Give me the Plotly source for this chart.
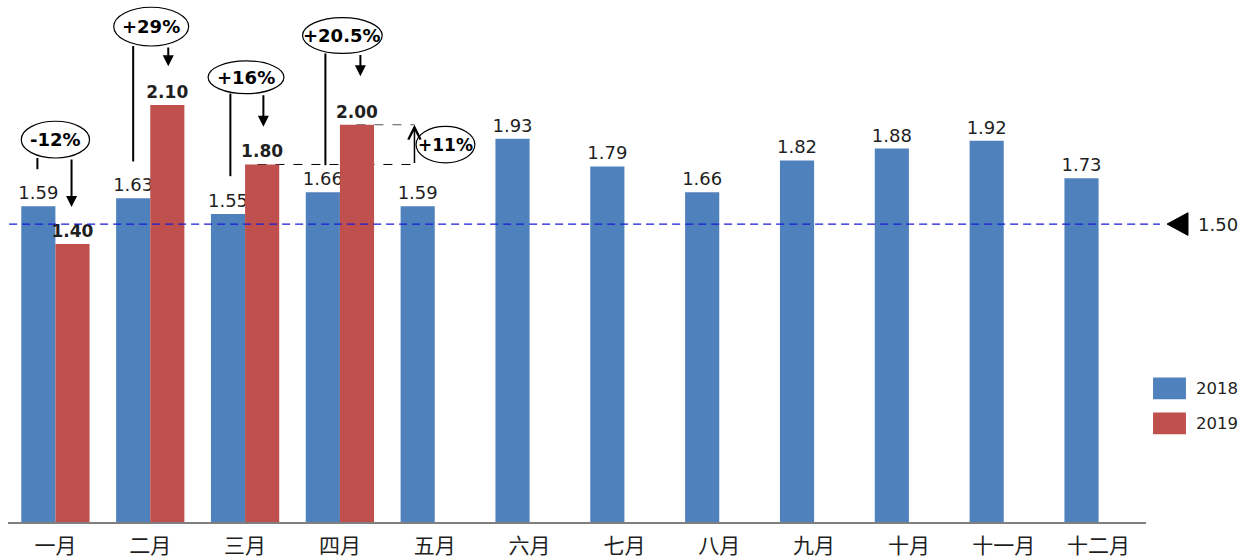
import plotly.graph_objects as go

# --- data -------------------------------------------------------------
months = ["一月", "二月", "三月", "四月", "五月", "六月",
          "七月", "八月", "九月", "十月", "十一月", "十二月"]
values_2018 = [1.59, 1.63, 1.55, 1.66, 1.59, 1.93, 1.79, 1.66, 1.82, 1.88, 1.92, 1.73]
values_2019 = [1.40, 2.10, 1.80, 2.00]
series_names = ["2018", "2019"]
threshold = 1.50

# year-over-year change callouts: (month index, label)
yoy_labels = [(0, "-12%"), (1, "+29%"), (2, "+16%"), (3, "+20.5%")]
mom_label = "+11%"

BLUE = "#4F81BD"
RED = "#C0504D"
TXT = "#1f1f1f"

fig = go.Figure()
fig.add_trace(go.Bar(
    x=months, y=values_2018, name=series_names[0], marker_color=BLUE,
    marker_line_width=0,
    texttemplate="%{y:.2f}", textposition="outside", constraintext="none",
    textfont=dict(family="DejaVu Sans", size=18, color=TXT),
    cliponaxis=False, showlegend=False,
))
fig.add_trace(go.Bar(
    x=months[:len(values_2019)], y=values_2019, name=series_names[1],
    marker_color=RED, marker_line_width=0,
    texttemplate="<b>%{y:.2f}</b>", textposition="outside", constraintext="none",
    textfont=dict(family="DejaVu Sans", size=17, color=TXT),
    cliponaxis=False, showlegend=False,
))

shapes = []
annotations = []

# offsets of the two bars inside a month group (category units)
off = 0.18

# callout geometry per month: ellipse centre / size, line and arrow ends
callouts = {
    0: dict(cx=0.0, cy=1.925, w=0.72, h=0.185, line_x=-0.19, line_end=1.776,
            arrow_x=0.17, arrow_tip=1.586),
    1: dict(cx=1.01, cy=2.494, w=0.79, h=0.195, line_x=1 - off, line_end=1.815,
            arrow_x=1 + 0.19, arrow_tip=2.294),
    2: dict(cx=2.01, cy=2.239, w=0.80, h=0.165, line_x=1.845, line_end=1.741,
            arrow_x=2.193, arrow_tip=1.990),
    3: dict(cx=3.026, cy=2.449, w=0.84, h=0.18, line_x=2.847, line_end=1.796,
            arrow_x=3.216, arrow_tip=2.244),
}

for idx, label in yoy_labels:
    c = callouts[idx]
    bottom = c["cy"] - c["h"] / 2
    shapes.append(dict(type="line", xref="x", yref="y",
                       x0=c["line_x"], x1=c["line_x"], y0=bottom, y1=c["line_end"],
                       line=dict(color="black", width=2)))
    annotations.append(dict(x=c["arrow_x"], y=c["arrow_tip"], ax=c["arrow_x"], ay=bottom,
                            xref="x", yref="y", axref="x", ayref="y", text="",
                            showarrow=True, arrowhead=2, arrowsize=1.1, arrowwidth=2,
                            arrowcolor="black", standoff=0))
    shapes.append(dict(type="circle", xref="x", yref="y",
                       x0=c["cx"] - c["w"] / 2, x1=c["cx"] + c["w"] / 2,
                       y0=c["cy"] - c["h"] / 2, y1=c["cy"] + c["h"] / 2,
                       line=dict(color="black", width=1.2), fillcolor="white"))
    annotations.append(dict(x=c["cx"], y=c["cy"], xref="x", yref="y", text=f"<b>{label}</b>",
                            showarrow=False,
                            font=dict(family="DejaVu Sans", size=18, color="black")))

# month-over-month change between March and April 2019
mar_2019, apr_2019 = values_2019[2], values_2019[3]
arrow_col = 3.786
shapes.append(dict(type="line", xref="x", yref="y", layer="below",
                   x0=2.13, x1=arrow_col, y0=mar_2019, y1=mar_2019,
                   line=dict(color="black", width=1, dash="dash")))
shapes.append(dict(type="line", xref="x", yref="y", layer="below",
                   x0=3.174, x1=arrow_col, y0=apr_2019, y1=apr_2019,
                   line=dict(color="#555555", width=1, dash="dash")))
annotations.append(dict(x=arrow_col, y=apr_2019, ax=arrow_col, ay=mar_2019,
                        xref="x", yref="y", axref="x", ayref="y", text="",
                        showarrow=True, arrowhead=5, arrowsize=1.6, arrowwidth=1.5,
                        arrowcolor="black", standoff=0))
shapes.append(dict(type="circle", xref="x", yref="y",
                   x0=4.113 - 0.31, x1=4.113 + 0.31, y0=1.900 - 0.092, y1=1.900 + 0.092,
                   line=dict(color="black", width=1.2), fillcolor="white"))
annotations.append(dict(x=4.113, y=1.900, xref="x", yref="y", text=f"<b>{mom_label}</b>",
                        showarrow=False,
                        font=dict(family="DejaVu Sans", size=17, color="black")))

# reference line with marker and value at the right edge
shapes.append(dict(type="line", xref="paper", yref="y", x0=0.001, x1=1.0123,
                   y0=threshold, y1=threshold,
                   line=dict(color="#1a1ad8", width=1.3, dash="8px,5px")))
shapes.append(dict(type="path", xref="paper", yref="y",
                   path=(f"M 1.0185 {threshold} L 1.0369 {threshold + 0.057} "
                         f"L 1.0369 {threshold - 0.057} Z"),
                   fillcolor="black", line=dict(color="black", width=1)))
annotations.append(dict(x=1.044, y=threshold, xref="paper", yref="y",
                        text=f"{threshold:.2f}", showarrow=False,
                        xanchor="left", yanchor="middle",
                        font=dict(family="DejaVu Sans", size=18, color=TXT)))

# legend swatches
legend_rows = [(series_names[0], BLUE, 0.256), (series_names[1], RED, 0.189)]
for name, col, yc in legend_rows:
    shapes.append(dict(type="rect", xref="paper", yref="paper",
                       x0=1.0062, x1=1.0351, y0=yc - 0.021, y1=yc + 0.021,
                       fillcolor=col, line=dict(width=0)))
    annotations.append(dict(x=1.0425, y=yc, xref="paper", yref="paper", text=name,
                            showarrow=False, xanchor="left", yanchor="middle",
                            font=dict(family="DejaVu Sans", size=16.5, color=TXT)))

fig.update_layout(
    width=1239, height=559, autosize=False,
    margin=dict(l=8, r=93, t=0, b=32, pad=0),
    paper_bgcolor="white", plot_bgcolor="white",
    barmode="group", bargap=0.28, bargroupgap=0,
    shapes=shapes, annotations=annotations,
    showlegend=False,
    xaxis=dict(type="category", showline=True, linecolor="#7f7f7f", linewidth=2,
               ticks="", showgrid=False, ticklabelstandoff=4,
               tickfont=dict(family="Noto Sans CJK SC", size=21, color=TXT)),
    yaxis=dict(range=[0, 2.628], visible=False, showgrid=False, zeroline=False),
)

fig.write_html("out.html")
